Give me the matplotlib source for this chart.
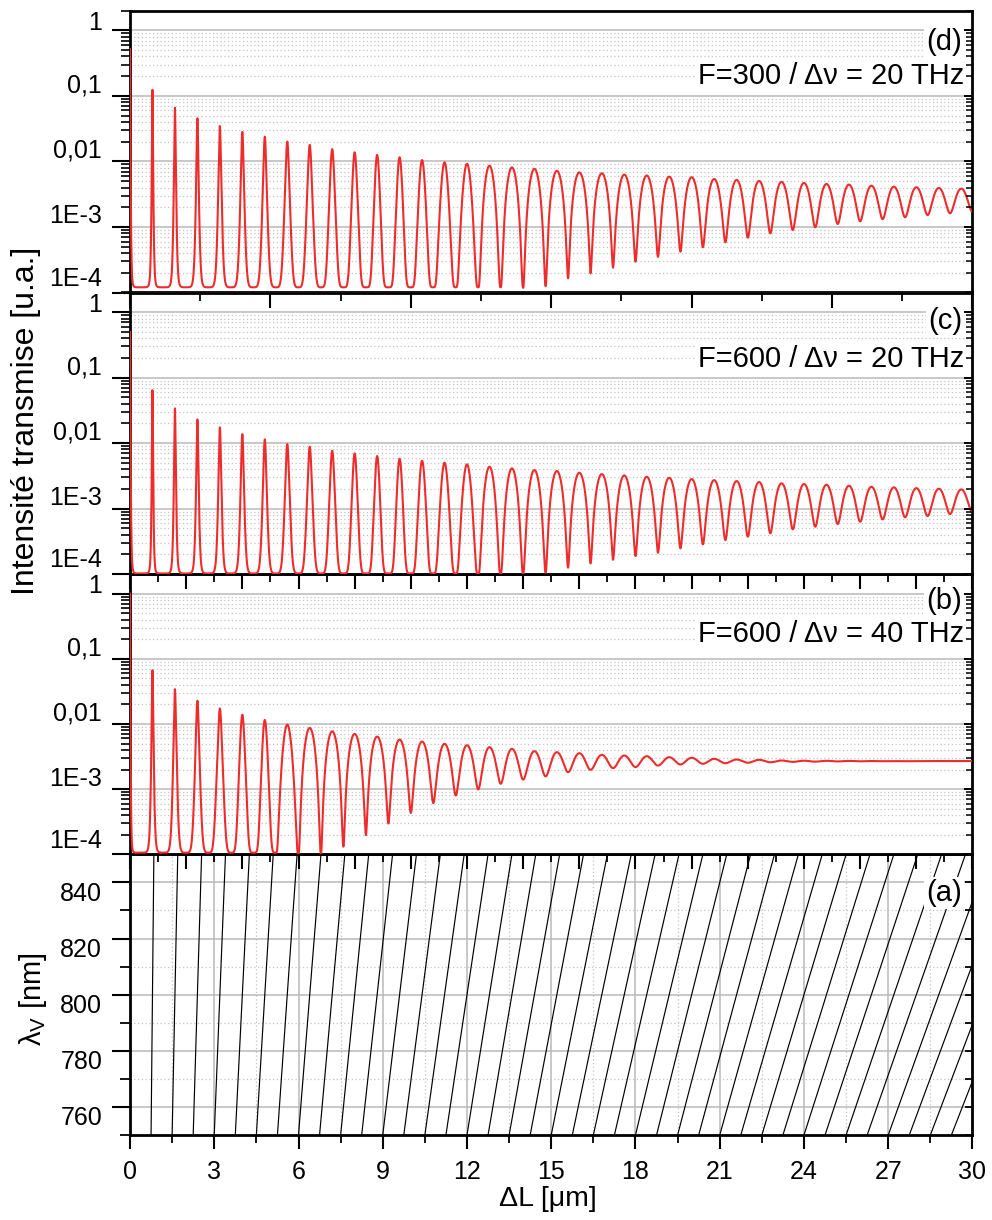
import numpy as np
import matplotlib
matplotlib.use("Agg")
import matplotlib.pyplot as plt
from matplotlib.ticker import FixedLocator, MultipleLocator, NullFormatter, FixedFormatter
import matplotlib.transforms as mtransforms

plt.rcParams['font.family'] = ['Liberation Sans', 'DejaVu Sans']
plt.rcParams['mathtext.fontset'] = 'custom'
plt.rcParams['mathtext.rm'] = 'Liberation Sans'
plt.rcParams['mathtext.it'] = 'Liberation Sans:italic'

# ------------------------------------------------------------------ data
# positions (um) of transmission maxima / minima
peak_pos_um = [0.0, 0.8, 1.6, 2.4, 3.2, 4.0, 4.8, 5.6, 6.4, 7.2, 8.0, 8.8, 9.6,
               10.4, 11.2, 12.0, 12.8, 13.6, 14.4, 15.2, 16.0, 16.8, 17.6, 18.4,
               19.2, 20.0, 20.8, 21.6, 22.4, 23.2, 24.0, 24.8, 25.6, 26.4, 27.2,
               28.0, 28.8, 29.6]
trough_pos_um = [0.4, 1.2, 2.0, 2.8, 3.6, 4.4, 5.2, 6.0, 6.8, 7.6, 8.4, 9.2, 10.0,
                 10.8, 11.6, 12.4, 13.2, 14.0, 14.8, 15.6, 16.4, 17.2, 18.0, 18.8,
                 19.6, 20.4, 21.2, 22.0, 22.8, 23.6, 24.4, 25.2, 26.0, 26.8, 27.6,
                 28.4, 29.2, 30.0]

# panel (d) F=300 / 20 THz
peaks_d = [0.52, 0.124, 0.066, 0.0456, 0.0348, 0.0282, 0.0239, 0.0201, 0.0179,
           0.0154, 0.0138, 0.0126, 0.0116, 0.0105, 0.0097, 0.0092, 0.0086, 0.0081,
           0.0077, 0.0072, 0.0068, 0.0066, 0.0063, 0.0061, 0.00586, 0.00574, 0.0054,
           0.00522, 0.00504, 0.00487, 0.0047, 0.00453, 0.00443, 0.00427, 0.00412,
           0.00404, 0.00394, 0.00385]
troughs_d = [1.2e-4, 1.2e-4, 1.2e-4, 1.2e-4, 1.2e-4, 1.2e-4, 1.2e-4, 1.2e-4, 1.2e-4,
             1.2e-4, 1.2e-4, 1.2e-4, 1.2e-4, 1.2e-4, 1.2e-4, 1.2e-4, 1.2e-4, 1.18e-4,
             1.25e-4, 1.65e-4, 1.96e-4, 2.39e-4, 2.95e-4, 3.5e-4, 4.2e-4, 4.9e-4,
             5.84e-4, 6.87e-4, 8.0e-4, 9.0e-4, 9.9e-4, 1.11e-3, 1.22e-3, 1.32e-3,
             1.41e-3, 1.52e-3, 1.62e-3, 1.71e-3]

# panel (c) F=600 / 20 THz
peaks_c = [0.50, 0.0644, 0.0339, 0.0230, 0.0174, 0.0137, 0.0114, 0.00966, 0.00879,
           0.00763, 0.00696, 0.00634, 0.00576, 0.00537, 0.00501, 0.00473, 0.00435,
           0.00411, 0.00387, 0.00374, 0.00352, 0.00336, 0.00321, 0.00306, 0.00295,
           0.00282, 0.00272, 0.00263, 0.00254, 0.00243, 0.00237, 0.00231, 0.00223,
           0.00215, 0.00211, 0.00205, 0.00201, 0.00196]
troughs_c = [1.02e-4, 1.02e-4, 1.02e-4, 1.02e-4, 1.02e-4, 1.02e-4, 1.02e-4, 1.02e-4,
             1.02e-4, 1.02e-4, 1.02e-4, 1.02e-4, 1.02e-4, 1.02e-4, 1.02e-4, 1.0e-4,
             1.0e-4, 1.0e-4, 1.05e-4, 1.25e-4, 1.45e-4, 1.65e-4, 1.88e-4, 2.11e-4,
             2.47e-4, 2.84e-4, 3.3e-4, 3.72e-4, 4.18e-4, 4.81e-4, 5.28e-4, 5.8e-4,
             6.29e-4, 6.84e-4, 7.34e-4, 7.68e-4, 8.24e-4, 8.63e-4]

# panel (b) F=600 / 40 THz
peaks_b = [1.0, 0.0667, 0.0342, 0.0227, 0.0173, 0.0139, 0.0115, 0.00975, 0.00868,
           0.0077, 0.00703, 0.0064, 0.00576, 0.00537, 0.00495, 0.00471, 0.0044,
           0.00415, 0.00382, 0.00369, 0.00356, 0.00336, 0.00328, 0.0032, 0.00309,
           0.00303, 0.00292, 0.00285, 0.00282, 0.00275, 0.00273, 0.00272, 0.00271,
           0.0027, 0.0027, 0.0027, 0.0027, 0.0027]
troughs_b = [1.06e-4, 1.06e-4, 1.06e-4, 1.06e-4, 1.06e-4, 1.06e-4, 1.06e-4, 1.0e-4,
             1.0e-4, 1.31e-4, 1.97e-4, 2.97e-4, 4.31e-4, 6.1e-4, 8.0e-4, 9.9e-4,
             1.21e-3, 1.40e-3, 1.57e-3, 1.82e-3, 1.98e-3, 2.10e-3, 2.18e-3, 2.30e-3,
             2.39e-3, 2.45e-3, 2.50e-3, 2.54e-3, 2.58e-3, 2.62e-3, 2.64e-3, 2.66e-3,
             2.67e-3, 2.68e-3, 2.68e-3, 2.69e-3, 2.69e-3, 2.69e-3]

# peak shape: Airy sharpness (0 = sine-like) and rounding exponent
shapeK_dc = [1000, 320, 120, 65, 40, 27, 18, 12, 9, 6, 4.5, 3.5, 2.5, 1.5, 1, 0.5,
             0, 0, 0, 0, 0, 0, 0, 0, 0, 0, 0, 0, 0, 0, 0, 0, 0, 0, 0, 0, 0, 0]
shapeN_dc = [2, 2, 2, 2, 2, 2, 2, 2, 2, 2.2, 2.4, 2.6, 2.7, 2.6, 2.2, 1.9, 1.6, 1.35,
             1.2, 1.1, 1, 1, 1, 1, 1, 1, 1, 1, 1, 1, 1, 1, 1, 1, 1, 1, 1, 1]
shapeK_b = [2000, 120, 40, 18, 9, 4.5, 2.5, 0.5, 0, 0, 0, 0, 0, 0, 0, 0, 0, 0, 0,
            0, 0, 0, 0, 0, 0, 0, 0, 0, 0, 0, 0, 0, 0, 0, 0, 0, 0, 0]
shapeN_b = [2, 2, 2, 2, 2, 2.4, 2.7, 1.6, 1.3, 1.15, 1.05, 1, 1, 1, 1, 1, 1, 1, 1,
            1, 1, 1, 1, 1, 1, 1, 1, 1, 1, 1, 1, 1, 1, 1, 1, 1, 1, 1]

# panel (a): vernier wavelength lines, Delta L (um) where each order crosses 750 / 850 nm
vernier_lambda_nm = [750, 850]
dl_at_750 = [0.00, 0.75, 1.50, 2.25, 3.00, 3.75, 4.50, 5.25, 6.00, 6.75, 7.50, 8.25,
             9.00, 9.75, 10.50, 11.25, 12.00, 12.75, 13.50, 14.25, 15.00, 15.75,
             16.50, 17.25, 18.00, 18.75, 19.50, 20.25, 21.00, 21.75, 22.50, 23.25,
             24.00, 24.75, 25.50, 26.25, 27.00, 27.75, 28.50, 29.25, 30.00]
dl_at_850 = [0.00, 0.85, 1.70, 2.55, 3.40, 4.25, 5.10, 5.95, 6.80, 7.65, 8.50, 9.35,
             10.20, 11.05, 11.90, 12.75, 13.60, 14.45, 15.30, 16.15, 17.00, 17.85,
             18.70, 19.55, 20.40, 21.25, 22.10, 22.95, 23.80, 24.65, 25.50, 26.35,
             27.20, 28.05, 28.90, 29.75, 30.60, 31.45, 32.30, 33.15, 34.00]

log_ticks = [1e-4, 1e-3, 1e-2, 1e-1, 1]
log_ticklabels = ["1E-4", "1E-3", "0,01", "0,1", "1"]
lam_ticks = [760, 780, 800, 820, 840]
x_ticks = [0, 3, 6, 9, 12, 15, 18, 21, 24, 27, 30]

panel_texts = [("(d)", "F=300 / \u0394\u03bd = 20 THz"),
               ("(c)", "F=600 / \u0394\u03bd = 20 THz"),
               ("(b)", "F=600 / \u0394\u03bd = 40 THz")]


# ------------------------------------------------------------------ helpers
def profile(s, K, n):
    """s: 0 at a maximum, 1 at the next minimum"""
    c2 = np.cos(np.pi * s / 2) ** 2
    if K <= 0:
        A = c2
    else:
        s2 = 1 - c2
        A = (1 / (1 + K * s2) - 1 / (1 + K)) / (1 - 1 / (1 + K))
    return np.clip(A, 0, 1) ** n


def shaped_curve(x, ppos, pval, tpos, tval, Ks, Ns):
    y = np.full_like(x, np.nan)
    n = len(ppos)
    for k in range(n):
        x0, x1 = ppos[k], tpos[k]
        m = (x >= x0) & (x <= x1)
        s = (x[m] - x0) / (x1 - x0)
        y[m] = tval[k] + (pval[k] - tval[k]) * profile(s, Ks[k], Ns[k])
        if k + 1 < n:
            x0, x1 = tpos[k], ppos[k + 1]
            m = (x >= x0) & (x <= x1)
            s = (x1 - x[m]) / (x1 - x0)
            y[m] = tval[k] + (pval[k + 1] - tval[k]) * profile(s, Ks[k + 1], Ns[k + 1])
    return y


W, H = 992, 1220
fig = plt.figure(figsize=(W / 100, H / 100), dpi=100)
fig.patch.set_facecolor('white')

XL, XR = 130, 972.5


def rect(top, bottom):
    return [XL / W, 1 - bottom / H, (XR - XL) / W, (bottom - top) / H]


ax_a = fig.add_axes(rect(854.3, 1135))
ax_b = fig.add_axes(rect(574, 854.3))
ax_c = fig.add_axes(rect(292.5, 574))
ax_d = fig.add_axes(rect(10.7, 292.5))

RED = '#ee2c2c'
GRID_MAJ = '#b9b9b9'
GRID_MIN = '#c4c4c4'
SPW = 2.0
TFS = 18

x = np.linspace(0, 30, 40001)


def style_log_panel(ax, xmaj, xmin):
    ax.patch.set_visible(False)
    ax.set_yscale('log')
    ax.set_xlim(0, 30)
    ax.set_ylim(1e-4, 2.0)
    for sp in ax.spines.values():
        sp.set_linewidth(SPW)
    ax.yaxis.set_major_locator(FixedLocator(log_ticks))
    ax.yaxis.set_major_formatter(FixedFormatter(log_ticklabels))
    minors = [d * s for d in [1e-4, 1e-3, 1e-2, 1e-1, 1] for s in range(2, 10) if d * s <= 2.0]
    ax.yaxis.set_minor_locator(FixedLocator(minors))
    ax.yaxis.set_minor_formatter(NullFormatter())
    ax.xaxis.set_major_locator(MultipleLocator(xmaj))
    ax.xaxis.set_minor_locator(MultipleLocator(xmin))
    ax.tick_params(axis='x', which='both', direction='out', bottom=True, top=False,
                   labelbottom=False)
    ax.tick_params(axis='x', which='major', length=10.5, width=1.5)
    ax.tick_params(axis='x', which='minor', length=6, width=1.3)
    ax.tick_params(axis='y', which='both', direction='out', left=True, right=False,
                   labelsize=TFS, pad=7)
    ax.tick_params(axis='y', which='major', length=13, width=1.5)
    ax.tick_params(axis='y', which='minor', length=6.5, width=1.2)
    ax.grid(which='major', axis='y', color=GRID_MAJ, lw=1.1, ls='-')
    ax.grid(which='minor', axis='y', color=GRID_MIN, lw=0.9, ls=(0, (1, 2)))
    ax.set_axisbelow(True)
    # right-hand inner ticks
    tw = ax.twinx()
    tw.patch.set_visible(False)
    tw.set_yscale('log')
    tw.set_ylim(1e-4, 2.0)
    tw.yaxis.set_major_locator(FixedLocator(log_ticks))
    tw.yaxis.set_minor_locator(FixedLocator(minors))
    tw.yaxis.set_major_formatter(NullFormatter())
    tw.yaxis.set_minor_formatter(NullFormatter())
    for sp in tw.spines.values():
        sp.set_visible(False)
    tw.tick_params(axis='y', which='both', direction='in', right=True, left=False,
                   labelright=False)
    tw.tick_params(axis='y', which='major', length=6, width=1.4)
    tw.tick_params(axis='y', which='minor', length=4, width=1.1)
    shifts = [16, 13, 13, 13, 10]
    for lab, dy in zip(ax.yaxis.get_majorticklabels(), shifts):
        off = mtransforms.ScaledTranslation(0, dy / 100, fig.dpi_scale_trans)
        lab.set_transform(lab.get_transform() + off)


panels = [(ax_d, peaks_d, troughs_d, shapeK_dc, shapeN_dc, 5, 2.5),
          (ax_c, peaks_c, troughs_c, shapeK_dc, shapeN_dc, 2, 1),
          (ax_b, peaks_b, troughs_b, shapeK_b, shapeN_b, 2, 1)]
for ax, pk, tr, Ks, Ns, xmaj, xmin in panels:
    y = shaped_curve(x, peak_pos_um, pk, trough_pos_um, tr, Ks, Ns)
    ax.plot(x, y, color=RED, lw=1.5, solid_joinstyle='round', zorder=3)
    style_log_panel(ax, xmaj, xmin)

# ---- panel (a)
ax = ax_a
ax.patch.set_visible(False)
for i in range(len(dl_at_750)):
    ax.plot([dl_at_750[i], dl_at_850[i]], vernier_lambda_nm, color='black', lw=0.85, zorder=3)
ax.set_xlim(0, 30)
ax.set_ylim(750, 850)
for sp in ax.spines.values():
    sp.set_linewidth(SPW)
ax.xaxis.set_major_locator(FixedLocator(x_ticks))
ax.xaxis.set_major_formatter(FixedFormatter([str(v) for v in x_ticks]))
ax.xaxis.set_minor_locator(MultipleLocator(1.5))
ax.yaxis.set_major_locator(FixedLocator(lam_ticks))
ax.yaxis.set_major_formatter(FixedFormatter([str(v) for v in lam_ticks]))
ax.yaxis.set_minor_locator(MultipleLocator(10))
ax.tick_params(axis='x', which='both', direction='out', bottom=True, top=False,
               labelsize=TFS, pad=8)
ax.tick_params(axis='x', which='major', length=10, width=1.5)
ax.tick_params(axis='x', which='minor', length=6, width=1.3)
ax.tick_params(axis='y', which='both', direction='out', left=True, right=False,
               labelsize=TFS, pad=7)
ax.tick_params(axis='y', which='major', length=13, width=1.5)
ax.tick_params(axis='y', which='minor', length=7, width=1.3)
ax.grid(which='major', color=GRID_MAJ, lw=1.1, ls='-')
ax.grid(which='minor', color=GRID_MIN, lw=0.9, ls=(0, (1, 2)))
ax.set_axisbelow(True)
tw = ax.twinx()
tw.patch.set_visible(False)
tw.set_ylim(750, 850)
tw.yaxis.set_major_locator(MultipleLocator(10))
tw.yaxis.set_major_formatter(NullFormatter())
for sp in tw.spines.values():
    sp.set_visible(False)
tw.tick_params(axis='y', which='major', direction='in', right=True, left=False,
               labelright=False, length=5, width=1.3)
off = mtransforms.ScaledTranslation(0, -9 / 100, fig.dpi_scale_trans)
for lab in ax.yaxis.get_majorticklabels():
    lab.set_transform(lab.get_transform() + off)

# ---- texts
bb = dict(facecolor='white', edgecolor='none', pad=1.5)
ANN = 21
pos = [(42, 76), (321, 359), (601, 634)]
for (lab, txt), (y1, y2) in zip(panel_texts, pos):
    fig.text(962 / W, 1 - y1 / H, lab, ha='right', va='center', fontsize=ANN, bbox=bb, zorder=10)
    fig.text(964 / W, 1 - y2 / H, txt, ha='right', va='center', fontsize=ANN, bbox=bb, zorder=10)
fig.text(962 / W, 1 - 893 / H, "(a)", ha='right', va='center', fontsize=ANN, bbox=bb, zorder=10)

fig.text(26 / W, 1 - 421 / H, "Intensit\u00e9 transmise [u.a.]", rotation=90,
         ha='center', va='center', fontsize=23)
fig.text(33 / W, 1 - 999 / H, "\u03bb$_\\mathrm{V}$ [nm]", rotation=90,
         ha='center', va='center', fontsize=21)
fig.text(548 / W, 1 - 1199 / H, "\u0394L [\u03bcm]", ha='center', va='center', fontsize=20.5)

fig.savefig("out.png", dpi=100, facecolor='white')
